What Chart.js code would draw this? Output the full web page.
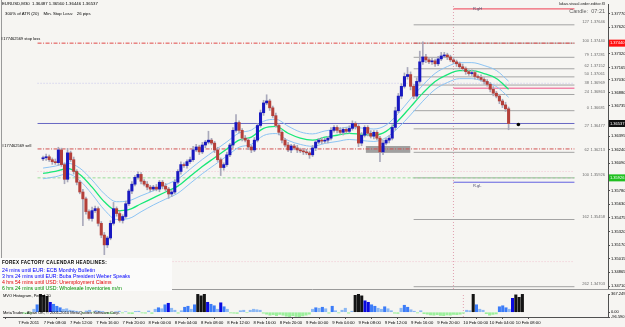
<!DOCTYPE html>
<html>
<head>
<meta charset="utf-8">
<script src="https://cdn.jsdelivr.net/npm/chart.js@4.4.1/dist/chart.umd.min.js"></script>
<style>
  body{margin:0;width:625px;height:327px;overflow:hidden;position:relative;background:#f5f4f1;font-family:"Liberation Sans",Arial,sans-serif}
  canvas{position:absolute;left:0}
  .t{position:absolute;white-space:nowrap;line-height:1;color:#000}
  #news{position:absolute;left:0;top:258px;width:172px;height:33px;background:#fbfbfa}
</style>
</head>
<body>
<canvas id="price" width="625" height="293" style="top:0"></canvas>
<canvas id="vol" width="625" height="41" style="top:286px"></canvas>

<div class="t" style="left:2px;top:2px;font-size:4.3px">EURUSD,M30&nbsp; 1.36487 1.36560 1.36446 1.36537</div>
<div class="t" style="left:5px;top:12px;font-size:4.3px">300% of ATR (20)&nbsp;&nbsp;&nbsp; Min. Stop Loss:&nbsp;&nbsp; 26 pips</div>
<div class="t" style="left:1px;top:37px;font-size:4px">#177462569 stop loss</div>
<div class="t" style="left:2px;top:144px;font-size:4px">#177462569 sell</div>
<div class="t" style="right:20px;top:2px;font-size:4px;color:#202020">lukas.visual.order.editor.f3</div>
<div class="t" style="right:20px;top:9px;font-size:5.5px;color:#606060">Candle:&nbsp; 07:21</div>
<div class="t" style="left:473px;top:7px;font-size:4px;color:#505070">R.gH</div>
<div class="t" style="left:473px;top:184px;font-size:4px;color:#505070">R.gL</div>
<div id="news">
  <div class="t" style="left:2px;top:3px;font-size:4.6px;font-weight:bold;letter-spacing:0.3px">FOREX FACTORY CALENDAR HEADLINES:</div>
  <div class="t" style="left:2px;top:10px;font-size:5.2px;color:#0000ff">24 mins until EUR: ECB Monthly Bulletin</div>
  <div class="t" style="left:2px;top:16px;font-size:5.2px;color:#0000ff">3 hrs 24 mins until EUR: Buba President Weber Speaks</div>
  <div class="t" style="left:2px;top:22px;font-size:5.2px;color:#e00000">4 hrs 54 mins until USD: Unemployment Claims</div>
  <div class="t" style="left:2px;top:28px;font-size:5.2px;color:#009000">6 hrs 24 mins until USD: Wholesale Inventories m/m</div>
</div>
<div class="t" style="left:3px;top:294px;font-size:4px">MVO Histogram, Period 20</div>
<div class="t" style="left:3px;top:311px;font-size:4px">MetaTrader - Alpari UK, © 2001-2010 MetaQuotes Software Corp.</div>

<script>
// EURUSD M30 bars, 7 Feb 05:00 .. 10 Feb 09:00
var FIRST_OPEN = 1.36140;
var closes = [
  1.36152,1.36163,1.36130,1.36108,1.36097,1.36240,1.36075,1.35910,1.36207,1.36130,
  1.35998,1.35877,1.35767,1.35690,1.35547,1.35470,1.35558,1.35580,1.35415,1.35283,
  1.35173,1.35250,1.35415,1.35580,1.35525,1.35448,1.35492,1.35635,1.35778,1.35855,
  1.35932,1.35965,1.35888,1.35855,1.35822,1.35800,1.35822,1.35800,1.35877,1.35833,
  1.35800,1.35745,1.35767,1.35877,1.35998,1.36075,1.36064,1.36108,1.36130,1.36240,
  1.36273,1.36218,1.36295,1.36328,1.36350,1.36317,1.36240,1.36130,1.36042,1.36075,
  1.36185,1.36295,1.36460,1.36548,1.36460,1.36372,1.36350,1.36273,1.36240,1.36350,
  1.36515,1.36658,1.36768,1.36790,1.36713,1.36625,1.36515,1.36438,1.36350,1.36295,
  1.36240,1.36284,1.36262,1.36240,1.36229,1.36218,1.36207,1.36185,1.36262,1.36328,
  1.36350,1.36339,1.36350,1.36372,1.36460,1.36493,1.36460,1.36438,1.36471,1.36449,
  1.36482,1.36537,1.36504,1.36317,1.36405,1.36493,1.36427,1.36394,1.36438,1.36372,
  1.36218,1.36317,1.36350,1.36372,1.36493,1.36680,1.36845,1.36955,1.37065,1.37087,
  1.36955,1.36845,1.37010,1.37230,1.37285,1.37252,1.37230,1.37241,1.37208,1.37263,
  1.37296,1.37307,1.37285,1.37252,1.37230,1.37208,1.37175,1.37153,1.37120,1.37098,
  1.37109,1.37065,1.37054,1.37032,1.37010,1.36977,1.36922,1.36878,1.36845,1.36790,
  1.36746,1.36702,1.36537
];
// wick lengths beyond the body, in pips
var wickUp = [
  2,3,2,2,3,3,2,2,5,2, 3,2,2,3,2,2,4,3,2,2, 3,2,3,7,2,3,2,3,2,3, 2,3,2,2,3,2,2,3,2,2,
  3,2,2,3,2,3,2,2,3,4, 3,2,3,2,10,2,2,3,2,2, 3,2,3,9,2,2,3,2,2,3, 2,3,3,7,2,2,3,2,2,2,
  3,2,2,3,2,2,3,2,3,2, 2,3,2,2,3,2,2,3,2,2, 3,3,2,2,3,2,2,3,2,2, 2,3,2,3,3,4,3,3,4,8,
  3,2,4,12,17,3,2,3,2,3, 4,3,2,2,3,2,2,3,2,2, 3,2,2,3,2,2,2,3,2,2, 2,3,2
];
var wickDn = [
  2,3,2,3,2,3,2,5,3,2, 3,3,2,30,3,2,3,2,3,3, 11,3,2,2,3,2,3,2,2,3, 2,2,3,2,3,3,2,2,3,3,
  2,5,3,2,2,3,2,3,2,2, 2,3,2,3,2,2,3,2,9,3, 2,2,3,2,3,3,2,3,3,2, 2,2,3,2,3,2,2,3,3,2,
  2,3,2,3,2,3,2,4,2,3, 2,3,2,3,2,2,3,2,3,2, 2,2,3,4,3,2,3,2,3,2, 11,3,2,3,2,3,2,3,2,3,
  4,3,3,2,3,3,2,3,3,2, 2,2,3,2,2,3,2,2,3,2, 2,3,2,2,3,2,3,3,2,3, 3,3,7
];
// moving average read every 4th bar, and its band half width in pips
var MA_STEP = 4;
var maValues = [
  1.35976,1.35998,1.36031,1.35965,1.35822,1.35657,1.35558,1.35569,1.35635,1.35701,
  1.35767,1.35833,1.35943,1.36053,1.36152,1.36251,1.36350,1.36383,1.36482,1.36504,
  1.36427,1.36372,1.36350,1.36383,1.36405,1.36427,1.36416,1.36405,1.36449,1.36570,
  1.36724,1.36878,1.37010,1.37087,1.37131,1.37131,1.37098,1.37043,1.36922
];
var bandPips = [6,6,6,7,8,9,10,10,9,8,8,8,8,8,8,8,8,8,8,8,8,7,7,7,7,7,7,7,7,8,9,9,9,9,9,9,9,9,9];
// MVO histogram
var mvo = [
  -25,-30,-20,60,150,367,340,320,200,160, 120,90,60,70,40,30,20,10,-15,25,
  40,-10,30,20,15,-20,-30,-20,10,20, -15,10,-25,-30,15,20,-15,-20,25,-25,
  60,90,70,150,180,80,40,-20,30,100, 120,60,150,360,330,367,200,160,130,60,
  190,110,60,-15,-20,-25,30,40,-10,40, 60,50,40,-20,-40,-60,-50,-70,-45,-60,
  -80,-90,-70,-85,-96,-75,-60,-40,60,90, 80,100,70,-20,120,30,-15,40,80,-20,
  20,340,367,330,230,200,150,120,80,60, 110,70,30,-20,-25,80,140,100,50,20,
  -15,30,-30,-40,-55,-60,-50,-65,-70,-55, -60,-45,-50,-40,-20,40,30,367,150,60,
  40,-30,-60,-45,-35,110,130,90,60,280, 350,300,360
];

var upperFib = [[127,1.37646],[100,1.37440],[79,1.37281],[62,1.37152],[50,1.37061],[38,1.36969],[24,1.36863],[0,1.36681]];
var lowerFib = [[27,1.36477],[62,1.36213],[100,1.35926],[162,1.35458],[262,1.34703]];

var STOP_LOSS = 1.37440, SELL_PRICE = 1.36251, BID = 1.36537, TARGET = 1.35926;
var RG_HIGH = 1.37825, RG_LOW = 1.35877, PINK_LEVEL = 1.36934;
var dottedLevels = [1.36989, 1.35998, 1.34985];
var RG_BAR = 134, FIB_START = 121;
var orderZone = {from:105.4, to:119.9, top:1.36284, bottom:1.36207};
var marker = {x:155.2, y:1.36526};

var priceTicks = [1.37770,1.37620,1.37320,1.37165,1.37030,1.36880,1.36735,1.36395,1.36240,1.36090,
  1.35780,1.35630,1.35475,1.35320,1.35170,1.35015,1.34865,1.34710];
var timeTicks = [-1.8,6,14,22,30,38,46,54,62,70,78,86,94,102,110,118,126,134,142,150];
var timeLabels = ["7 Feb 2011","7 Feb 08:00","7 Feb 12:00","7 Feb 16:00","7 Feb 20:00","8 Feb 00:00",
  "8 Feb 04:00","8 Feb 08:00","8 Feb 12:00","8 Feb 16:00","8 Feb 20:00","9 Feb 00:00","9 Feb 04:00",
  "9 Feb 08:00","9 Feb 12:00","9 Feb 16:00","9 Feb 20:00","10 Feb 00:00","10 Feb 04:00","10 Feb 08:00"];
var volTicks = [367.2497, 0, -96.5901];
var volLabels = ["367.2497","0.00","-96.5901"];

var X_MIN = -1.8, X_MAX = 173.5;
var P_MIN = 1.34677, P_MAX = 1.37880;
var PIP = 0.0001;
var BULL = '#1818c0', BEAR = '#b4403a', WICK = '#a9a9bb';
var AXIS = '#505050';
var FONT = '"Liberation Sans", Arial, sans-serif';

Chart.defaults.font.family = FONT;

var bodies = [], wicks = [], bodyColors = [];
for (var i = 0; i < closes.length; i++) {
  var o = i == 0 ? FIRST_OPEN : closes[i-1];
  var c = closes[i];
  bodies.push({x: i, y: [o, c]});
  wicks.push({x: i, y: [Math.min(o,c) - wickDn[i]*PIP, Math.max(o,c) + wickUp[i]*PIP]});
  bodyColors.push(c >= o ? BULL : BEAR);
}

function hline(price, x0, x1, color, dash, width) {
  return {type:'line', data:[{x:x0,y:price},{x:x1,y:price}], borderColor:color,
    borderWidth:width || 1, borderDash:dash || [], pointRadius:0, order:6};
}
function maLine(offsetSign, color, width) {
  return {type:'line', order:3, borderColor:color, borderWidth:width, pointRadius:0,
    cubicInterpolationMode:'monotone',
    data: maValues.map(function(v,k){ return {x:k*MA_STEP, y:v + offsetSign*bandPips[k]*PIP}; })};
}

var datasets = [
  {type:'bar', data:bodies, backgroundColor:bodyColors, barThickness:2.4, grouped:false, minBarLength:1, order:0},
  {type:'bar', data:wicks, backgroundColor:WICK, barThickness:1, grouped:false, order:1},
  {type:'scatter', data:[marker], pointRadius:1.8, backgroundColor:'#000', borderWidth:0, order:0},
  maLine(0, '#18e878', 1.3),
  maLine(1, '#8cc4f4', 1),
  maLine(-1, '#8cc4f4', 1),
  hline(STOP_LOSS, X_MIN, X_MAX, '#e04848', [4,1.5,1,1.5], 1),
  hline(SELL_PRICE, X_MIN, X_MAX, '#d05050', [4,1.5,1,1.5], 1),
  hline(BID, X_MIN, X_MAX, '#6868c4', [], 1),
  hline(TARGET, X_MIN, X_MAX, '#98dc98', [3,2], 1),
  hline(RG_HIGH, RG_BAR, X_MAX, '#f06070', [], 1.3),
  hline(RG_LOW, RG_BAR, X_MAX, '#6060e0', [], 1),
  hline(PINK_LEVEL, RG_BAR, X_MAX, '#f05088', [], 1),
  {type:'line', data:[{x:RG_BAR,y:P_MIN},{x:RG_BAR,y:P_MAX}], borderColor:'#e0a0b0', borderWidth:1, borderDash:[1,2], pointRadius:0, order:7}
];
dottedLevels.forEach(function(p, k) {
  datasets.push(hline(p, X_MIN, X_MAX, k == 0 ? '#c4c4ec' : '#f0c4d0', [1,2], 1));
});
upperFib.concat(lowerFib).forEach(function(f) {
  datasets.push(hline(f[1], FIB_START, X_MAX, '#a4a4a4', [], 1));
});

var bgPlugin = {
  id:'bg',
  beforeDraw: function(chart) {
    var ctx = chart.ctx, top = chart.canvas.id == 'vol' ? chart.chartArea.top - 1 : 0;
    ctx.save();
    ctx.fillStyle = '#f6f5f2';
    ctx.fillRect(0, top, chart.width, chart.height - top);
    ctx.restore();
  }
};

var pricePlugin = {
  id:'priceExtras',
  beforeDatasetsDraw: function(chart) {
    var ctx = chart.ctx, xs = chart.scales.x, ys = chart.scales.y;
    ctx.save();
    ctx.fillStyle = '#a0a0a0';
    var x0 = xs.getPixelForValue(orderZone.from), x1 = xs.getPixelForValue(orderZone.to);
    var y0 = ys.getPixelForValue(orderZone.top), y1 = ys.getPixelForValue(orderZone.bottom);
    ctx.fillRect(x0, y0, x1 - x0, y1 - y0);
    ctx.restore();
  },
  afterDraw: function(chart) {
    var ctx = chart.ctx, ys = chart.scales.y, area = chart.chartArea;
    ctx.save();
    ctx.font = '4px ' + FONT;
    ctx.fillStyle = '#6c6c6c';
    ctx.textBaseline = 'bottom';
    ctx.textAlign = 'right';
    upperFib.concat(lowerFib).forEach(function(f) {
      var py = ys.getPixelForValue(f[1]);
      ctx.fillText(f[1].toFixed(5), area.right - 3, py - 0.5);
      ctx.fillText(String(f[0]), area.right - 19, py - 0.5);
    });
    // price boxes on the axis
    [[STOP_LOSS,'#ff1010'],[BID,'#101010'],[TARGET,'#20c020']].forEach(function(b) {
      var py = ys.getPixelForValue(b[0]);
      ctx.fillStyle = b[1];
      ctx.fillRect(area.right + 1, py - 3.5, 17, 7);
      ctx.fillStyle = '#fff';
      ctx.textAlign = 'left';
      ctx.textBaseline = 'middle';
      ctx.fillText(b[0].toFixed(5), area.right + 2, py);
    });
    ctx.strokeStyle = '#9a9a9a';
    ctx.lineWidth = 1;
    ctx.beginPath();
    ctx.moveTo(0, area.bottom + 0.5); ctx.lineTo(chart.width, area.bottom + 0.5);
    ctx.moveTo(1.5, 0); ctx.lineTo(1.5, area.bottom);
    ctx.stroke();
    ctx.restore();
  }
};

function rightAxis(min, max, ticks, labelFn) {
  return {
    type:'linear', position:'right', min:min, max:max,
    afterFit: function(s) { s.width = 17; s.paddingTop = 0; s.paddingBottom = 0; },
    afterBuildTicks: function(s) { s.ticks = ticks.map(function(v){ return {value:v}; }); },
    grid:{drawOnChartArea:false, tickLength:2, color:AXIS},
    border:{color:AXIS},
    ticks:{autoSkip:false, font:{size:4}, color:'#000', padding:1, callback:labelFn}
  };
}

new Chart(document.getElementById('price'), {
  type:'bar',
  data:{datasets:datasets},
  options:{
    responsive:false, animation:false, events:[], devicePixelRatio:1,
    layout:{padding:{left:3, top:1, right:0, bottom:1}},
    plugins:{legend:{display:false}, tooltip:{enabled:false}},
    scales:{
      x:{type:'linear', min:X_MIN, max:X_MAX, display:false},
      y:rightAxis(P_MIN, P_MAX, priceTicks, function(v){ return v.toFixed(5); })
    }
  },
  plugins:[bgPlugin, pricePlugin]
});

function mvoColor(v) {
  if (v >= 300) return '#141414';
  if (v >= 180) return '#0a0ae0';
  if (v >= 90) return '#3c7cf8';
  if (v >= 0) return '#8cb8f4';
  return '#9cf09c';
}

new Chart(document.getElementById('vol'), {
  type:'bar',
  data:{datasets:[
    {type:'bar', data:mvo.map(function(v,i){ return {x:i, y:v}; }), backgroundColor:mvo.map(mvoColor),
      barThickness:2.4, grouped:false, order:0},
    {type:'line', data:[{x:RG_BAR,y:volTicks[2]},{x:RG_BAR,y:volTicks[0]}], borderColor:'#e0a0b0',
      borderWidth:1, borderDash:[1,2], pointRadius:0, order:1}
  ]},
  options:{
    responsive:false, animation:false, events:[], devicePixelRatio:1,
    layout:{padding:{left:3, top:8, right:0, bottom:0}},
    plugins:{legend:{display:false}, tooltip:{enabled:false}},
    scales:{
      x:{type:'linear', min:X_MIN, max:X_MAX,
        afterFit: function(s){ s.height = 10; s.paddingLeft = 0; s.paddingRight = 0; },
        afterBuildTicks: function(s){ s.ticks = timeTicks.map(function(v){ return {value:v}; }); },
        grid:{drawOnChartArea:false, tickLength:2, color:AXIS},
        border:{color:AXIS},
        ticks:{autoSkip:false, maxRotation:0, align:'start', font:{size:4.2}, color:'#000', padding:1,
          callback:function(v, idx){ return timeLabels[idx]; }}
      },
      y:rightAxis(volTicks[2], volTicks[0], volTicks, function(v, idx){ return volLabels[idx]; })
    }
  },
  plugins:[bgPlugin]
});
</script>
</body>
</html>
